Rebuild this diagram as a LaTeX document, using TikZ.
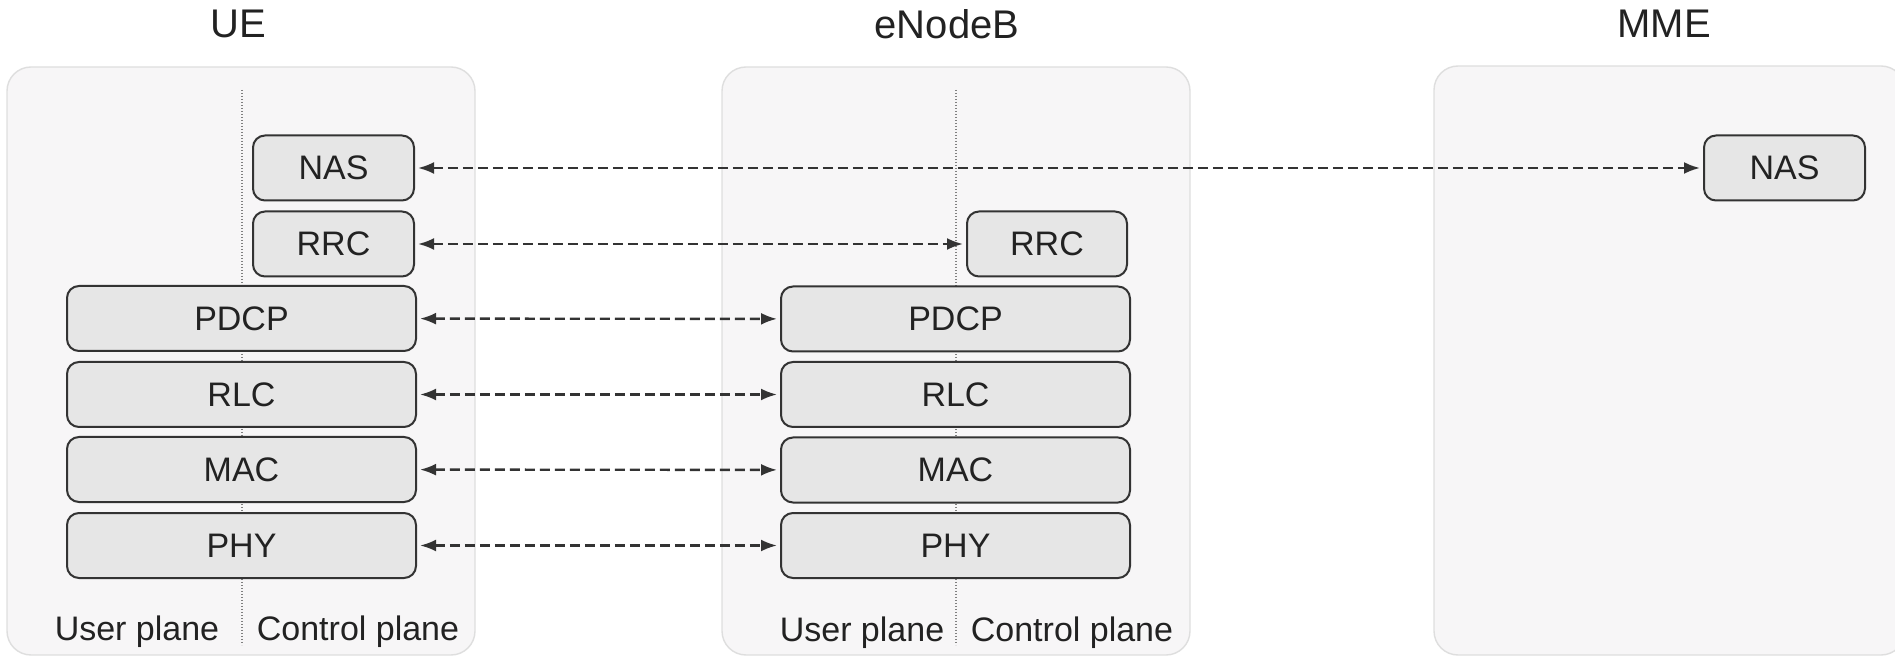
\documentclass[tikz,border=0pt]{standalone}
\usepackage{fontspec}
\setmainfont{Liberation Sans}
\usetikzlibrary{arrows.meta}

\definecolor{panelfill}{HTML}{F7F6F7}
\definecolor{paneledge}{HTML}{DEDEDE}
\definecolor{layerfill}{HTML}{E6E6E6}
\definecolor{layeredge}{HTML}{333333}
\definecolor{inkgray}{HTML}{222222}

\tikzset{
  panel/.style={draw=paneledge, fill=panelfill, line width=0.7pt, rounded corners=12pt},
  layer/.style={draw=layeredge, fill=layerfill, line width=1pt, rounded corners=6pt,
    minimum height=32.5pt, inner sep=0pt, text=inkgray, font=\fontsize{17}{20}\selectfont},
  peer/.style={dash pattern=on 5pt off 2.5pt, line width=1.2pt, draw=layeredge,
    {Latex[length=8pt,width=6pt]}-{Latex[length=8pt,width=6pt]},
    shorten <=1.5pt, shorten >=1.5pt},
  divider/.style={draw=gray, line width=0.6pt, dash pattern=on 0.6pt off 0.9pt},
  title/.style={anchor=base, text=inkgray, font=\fontsize{20}{24}\selectfont},
  planelabel/.style={anchor=base, text=inkgray, font=\fontsize{17}{20}\selectfont}
}

\begin{document}
\begin{tikzpicture}[x=0.5pt,y=-0.5pt]
\useasboundingbox (0,0) rectangle (1895,657);

% panels
\draw[panel] (7,67) rectangle (475,655);
\draw[panel] (722,67) rectangle (1190,655);
\draw[panel] (1434,66) rectangle (1905,655);

\node[title] (ue-title) at (238,38) {UE};
\node[title] (enb-title) at (947,39) {eNodeB};
\node[title] (mme-title) at (1664,38) {MME};

% user / control plane split
\draw[divider] (242,90) -- (242,645);
\draw[divider] (956,90) -- (956,645);

\node[planelabel] (ue-up) at (137,640) {User plane};
\node[planelabel] (ue-cp) at (358,640) {Control plane};
\node[planelabel] (enb-up) at (862,641) {User plane};
\node[planelabel] (enb-cp) at (1072,641) {Control plane};

% UE stack
\node[layer, minimum width=80.5pt] (ue-nas) at (333.5,168) {NAS};
\node[layer, minimum width=80.5pt] (ue-rrc) at (333.5,244) {RRC};
\node[layer, minimum width=174.5pt] (ue-pdcp) at (241.5,318.5) {PDCP};
\node[layer, minimum width=174.5pt] (ue-rlc) at (241.5,394.5) {RLC};
\node[layer, minimum width=174.5pt] (ue-mac) at (241.5,469.5) {MAC};
\node[layer, minimum width=174.5pt] (ue-phy) at (241.5,545.5) {PHY};

% eNodeB stack
\node[layer, minimum width=80pt] (enb-rrc) at (1047,244) {RRC};
\node[layer, minimum width=174.5pt] (enb-pdcp) at (955.5,319) {PDCP};
\node[layer, minimum width=174.5pt] (enb-rlc) at (955.5,394.5) {RLC};
\node[layer, minimum width=174.5pt] (enb-mac) at (955.5,470) {MAC};
\node[layer, minimum width=174.5pt] (enb-phy) at (955.5,545.5) {PHY};

% MME
\node[layer, minimum width=80.5pt] (mme-nas) at (1784.5,168) {NAS};

% peer links
\draw[peer] (ue-nas) -- (mme-nas);
\draw[peer] (ue-rrc) -- (enb-rrc);
\draw[peer] (ue-pdcp) -- (enb-pdcp);
\draw[peer] (ue-rlc) -- (enb-rlc);
\draw[peer] (ue-mac) -- (enb-mac);
\draw[peer] (ue-phy) -- (enb-phy);
\end{tikzpicture}
\end{document}
